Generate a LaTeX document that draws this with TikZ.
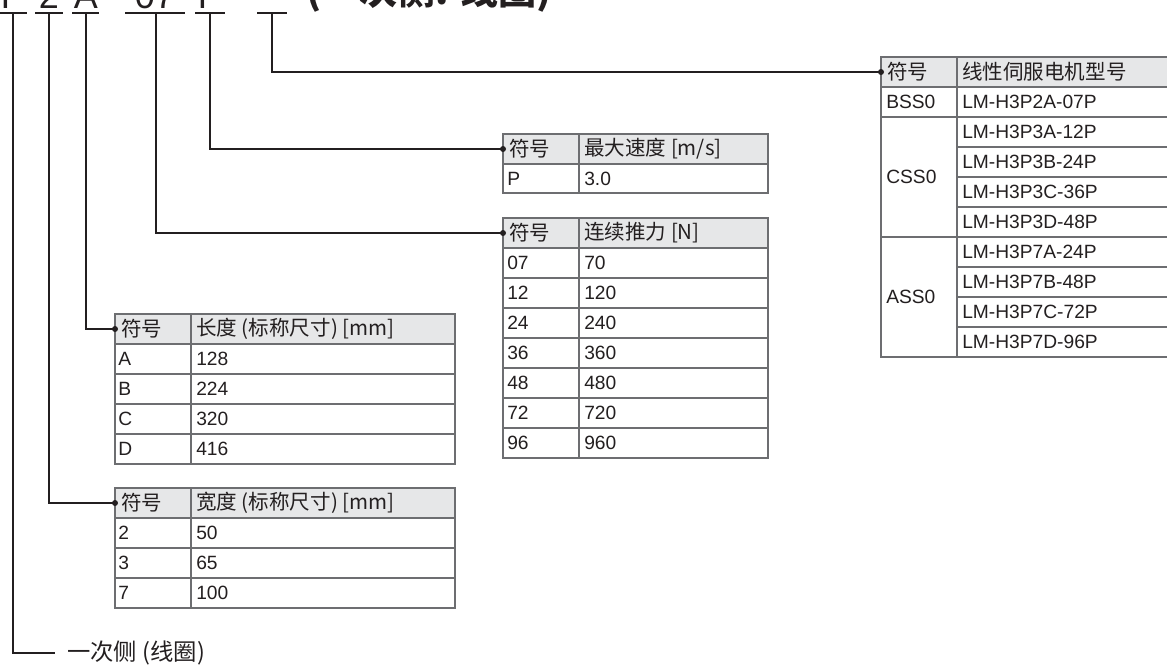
\documentclass[tikz,border=0pt]{standalone}
\usepackage{fontspec}
\setmainfont{Liberation Sans}
\newfontfamily\cjk{Noto Sans CJK SC}
\definecolor{ink}{HTML}{231F20}
\definecolor{gridc}{HTML}{6D6E71}
\definecolor{hdr}{HTML}{E6E7E8}
\begin{document}
\begin{tikzpicture}[x=0.75pt,y=-0.75pt,
  conn/.style={draw=ink, line width=1.5pt},
  grid/.style={draw=gridc, line width=1pt},
  cjt/.style={font=\cjk\fontsize{15.4}{18}\selectfont, text=ink, inner sep=0pt, anchor=west},
  lat/.style={font=\fontsize{14.4}{16}\selectfont, text=ink, inner sep=0pt, anchor=west},
  dotm/.style={circle, fill=ink, inner sep=0pt, minimum size=4.5pt},
  ttl/.style={font=\fontsize{27}{30}\selectfont, text=ink, inner sep=0pt, anchor=base},
]
\useasboundingbox (0,0) rectangle (1167,668);

% ---------- title (cut off at top, as in the reference) ----------
\node[ttl] (tP1) at (13,8.5) {P};
\node[ttl] (t2) at (49,8.5) {2};
\node[ttl] (tA) at (86,8.5) {A};
\node[ttl] (t07) at (155,8.5) {07};
\node[ttl] (tP2) at (210,8.5) {P};
\node[font=\cjk\bfseries\fontsize{28.5}{30}\selectfont, text=ink, inner sep=0pt, anchor=base west] (tT) at (306,4) {(一次侧: 线圈)};

\draw[conn] (0,13) -- (27,13);
\draw[conn] (35,13) -- (63,13);
\draw[conn] (72,13) -- (99,13);
\draw[conn] (125,13) -- (185,13);
\draw[conn] (195,13) -- (225,13);
\draw[conn] (257,13) -- (287,13);
\coordinate (s1) at (13,13);
\coordinate (s2) at (49,13);
\coordinate (s3) at (86,13);
\coordinate (s4) at (156,13);
\coordinate (s5) at (210,13);
\coordinate (s6) at (272,13);

% ---------- right table: motor model ----------
\fill[hdr] (881,57) rectangle (1168,87);
\draw[grid] (1168,57) -- (881,57) -- (881,357) -- (1168,357);
\draw[grid] (957,57) -- (957,357);
\foreach \y in {87,117,237} \draw[grid] (881,\y) -- (1168,\y);
\foreach \y in {147,177,207,267,297,327} \draw[grid] (957,\y) -- (1168,\y);
\node[cjt] (rh1) at (887,72) {符号};
\node[cjt] (rh2) at (962,72) {线性伺服电机型号};
\node[lat] (rb) at (886,102) {BSS0};
\node[lat] (rc) at (886,177) {CSS0};
\node[lat] (ra) at (886,297) {ASS0};
\node[lat] (m1) at (962,102) {LM-H3P2A-07P};
\node[lat] (m2) at (962,132) {LM-H3P3A-12P};
\node[lat] (m3) at (962,162) {LM-H3P3B-24P};
\node[lat] (m4) at (962,192) {LM-H3P3C-36P};
\node[lat] (m5) at (962,222) {LM-H3P3D-48P};
\node[lat] (m6) at (962,252) {LM-H3P7A-24P};
\node[lat] (m7) at (962,282) {LM-H3P7B-48P};
\node[lat] (m8) at (962,312) {LM-H3P7C-72P};
\node[lat] (m9) at (962,342) {LM-H3P7D-96P};
\coordinate (rin) at (881,72);

% ---------- speed table ----------
\fill[hdr] (503,134) rectangle (768,164);
\draw[grid] (503,134) rectangle (768,193);
\draw[grid] (579,134) -- (579,193);
\draw[grid] (503,164) -- (768,164);
\node[cjt] (vh1) at (509,149) {符号};
\node[cjt] (vh2) at (584,149) {最大速度 [m/s]};
\node[lat] (v1) at (507,178.5) {P};
\node[lat] (v2) at (584,178.5) {3.0};
\coordinate (vin) at (503,149);

% ---------- thrust table ----------
\fill[hdr] (503,218) rectangle (768,248);
\draw[grid] (503,218) rectangle (768,458);
\draw[grid] (579,218) -- (579,458);
\foreach \y in {248,278,308,338,368,398,428} \draw[grid] (503,\y) -- (768,\y);
\node[cjt] (fh1) at (509,233) {符号};
\node[cjt] (fh2) at (584,233) {连续推力 [N]};
\foreach \a/\b [count=\i] in {07/70,12/120,24/240,36/360,48/480,72/720,96/960} {
  \node[lat] (fa\i) at (507,233+30*\i) {\a};
  \node[lat] (fb\i) at (584,233+30*\i) {\b};
}
\coordinate (fin) at (503,233);

% ---------- length table ----------
\fill[hdr] (115,314) rectangle (455,344);
\draw[grid] (115,314) rectangle (455,464);
\draw[grid] (191,314) -- (191,464);
\foreach \y in {344,374,404,434} \draw[grid] (115,\y) -- (455,\y);
\node[cjt] (lh1) at (121,329) {符号};
\node[cjt] (lh2) at (196,329) {长度 (标称尺寸) [mm]};
\foreach \a/\b [count=\i] in {A/128,B/224,C/320,D/416} {
  \node[lat] (la\i) at (118,329+30*\i) {\a};
  \node[lat] (lb\i) at (196,329+30*\i) {\b};
}
\coordinate (lin) at (115,329);

% ---------- width table ----------
\fill[hdr] (115,488) rectangle (455,518);
\draw[grid] (115,488) rectangle (455,608);
\draw[grid] (191,488) -- (191,608);
\foreach \y in {518,548,578} \draw[grid] (115,\y) -- (455,\y);
\node[cjt] (wh1) at (121,503) {符号};
\node[cjt] (wh2) at (196,503) {宽度 (标称尺寸) [mm]};
\foreach \a/\b [count=\i] in {2/50,3/65,7/100} {
  \node[lat] (wa\i) at (118,503+30*\i) {\a};
  \node[lat] (wb\i) at (196,503+30*\i) {\b};
}
\coordinate (win) at (115,503);

% ---------- bottom label ----------
\node[cjt, font=\cjk\fontsize{17.5}{20}\selectfont] (bl) at (67,653) {一次侧 (线圈)};
\coordinate (bend) at (55,653);

% ---------- connectors ----------
\draw[conn] (s6) |- (rin);
\draw[conn] (s5) |- (vin);
\draw[conn] (s4) |- (fin);
\draw[conn] (s3) |- (lin);
\draw[conn] (s2) |- (win);
\draw[conn] (s1) |- (bend);
\foreach \c in {rin,vin,fin,lin,win} \node[dotm] at (\c) {};
\end{tikzpicture}
\end{document}
